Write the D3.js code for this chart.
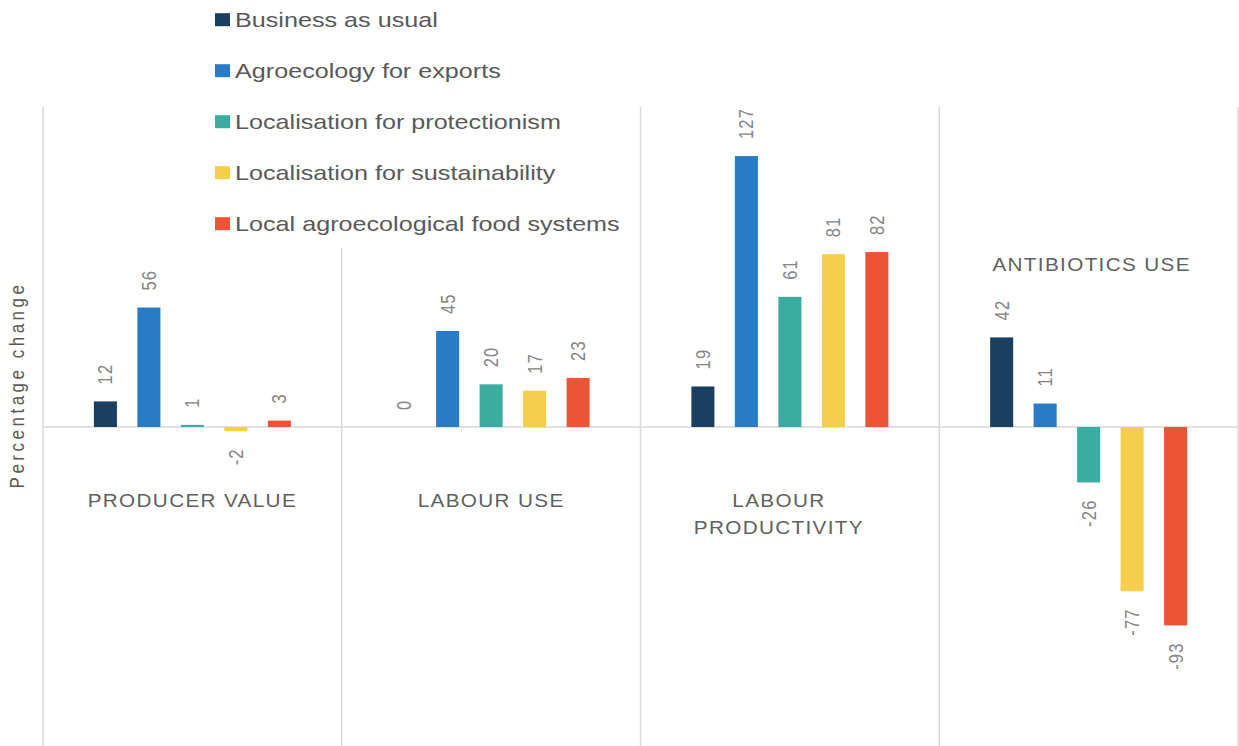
<!DOCTYPE html>
<html>
<head>
<meta charset="utf-8">
<script src="https://cdn.jsdelivr.net/npm/d3@7"></script>
<style>
  html, body { margin: 0; padding: 0; background: #ffffff; }
  svg { display: block; font-family: "Liberation Sans", Arial, sans-serif; }
</style>
</head>
<body>
<svg id="chart" width="1239" height="746"></svg>
<script>
// Indicators (groups along the x axis)
const categories = ["PRODUCER VALUE", "LABOUR USE", "LABOUR PRODUCTIVITY", "ANTIBIOTICS USE"];
const categoryLines = [["PRODUCER VALUE"], ["LABOUR USE"], ["LABOUR", "PRODUCTIVITY"], ["ANTIBIOTICS USE"]];

// Scenarios (one bar per scenario in every group)
const series = [
  "Business as usual",
  "Agroecology for exports",
  "Localisation for protectionism",
  "Localisation for sustainability",
  "Local agroecological food systems"
];

// Percentage change per scenario, in category order
const businessAsUsual     = [12, 0, 19, 42];
const agroecologyExports  = [56, 45, 127, 11];
const localProtectionism  = [1, 20, 61, -26];
const localSustainability = [-2, 17, 81, -77];
const localAgroFood       = [3, 23, 82, -93];

const seriesValues = [businessAsUsual, agroecologyExports, localProtectionism, localSustainability, localAgroFood];
const seriesColors = ["#1b3f60", "#2a7bc5", "#3aada1", "#f5cf4b", "#eb5536"];

const yDomain = [-150, 150];
const axisTitle = "Percentage change";

// ---- layout ----
const svg = d3.select("#chart");
const plotLeft = 43, plotRight = 1238, plotTop = 107, plotBottom = 747;
const SX = 1.2;              // horizontal stretch of the typeface
const gridColor = "#d9d9d9";

const x0 = d3.scaleBand().domain(categories).range([plotLeft, plotRight]).padding(0);
const x1 = d3.scaleBand().domain(series).range([0, x0.bandwidth()])
  .paddingInner(0.47).paddingOuter(1.17);
const y = d3.scaleLinear().domain(yDomain).range([plotBottom, plotTop]);
const color = d3.scaleOrdinal().domain(series).range(seriesColors);

const rows = [];
categories.forEach((c, ci) => {
  series.forEach((s, si) => rows.push({ category: c, series: s, value: seriesValues[si][ci] }));
});

// group separators
const bounds = categories.map(c => x0(c)).concat([plotRight]);
svg.append("g").selectAll("line").data(bounds).join("line")
  .attr("x1", d => d).attr("x2", d => d)
  .attr("y1", y(yDomain[1])).attr("y2", plotBottom)
  .attr("stroke", gridColor).attr("stroke-width", 1.5);

// zero line
svg.append("line")
  .attr("x1", plotLeft).attr("x2", plotRight)
  .attr("y1", y(0)).attr("y2", y(0))
  .attr("stroke", gridColor).attr("stroke-width", 1.5);

// bars
svg.append("g").selectAll("rect").data(rows).join("rect")
  .attr("x", d => x0(d.category) + x1(d.series))
  .attr("width", x1.bandwidth())
  .attr("y", d => y(Math.max(0, d.value)))
  .attr("height", d => Math.abs(y(d.value) - y(0)))
  .attr("fill", d => color(d.series));

// value labels, rotated
const labelGap = 17;
const valueLabels = svg.append("g").selectAll("g").data(rows).join("g")
  .attr("transform", d => {
    const cx = x0(d.category) + x1(d.series) + x1.bandwidth() / 2;
    const yy = d.value >= 0 ? y(d.value) - labelGap : y(d.value) + labelGap;
    return `translate(${cx},${yy}) scale(${SX},1) rotate(-90)`;
  });
valueLabels.append("text")
  .attr("dy", "0.35em")
  .attr("text-anchor", d => d.value >= 0 ? "start" : "end")
  .attr("font-size", 16.5)
  .attr("letter-spacing", 1.2)
  .attr("fill", "#868686")
  .text(d => String(d.value));

// category labels
const labelBaseline = c => (c === "ANTIBIOTICS USE" ? y(0) - 156 : y(0) + 80);
const labelShift = c => (c === "LABOUR PRODUCTIVITY" ? -11 : (c === "ANTIBIOTICS USE" ? 3 : 0));
const catGroups = svg.append("g").selectAll("g").data(categories).join("g")
  .attr("transform", c => `translate(${x0(c) + x0.bandwidth() / 2 + labelShift(c)},${labelBaseline(c)}) scale(1.12,1)`);
catGroups.each(function(c, i) {
  d3.select(this).selectAll("text").data(categoryLines[i]).join("text")
    .attr("y", (d, j) => j * 27)
    .attr("text-anchor", "middle")
    .attr("font-size", 18.5)
    .attr("letter-spacing", 1.2)
    .attr("fill", "#5f5f5f")
    .text(d => d);
});

// y axis title
svg.append("g")
  .attr("transform", `translate(24,${385}) scale(${SX},1) rotate(-90)`)
  .append("text")
  .attr("text-anchor", "middle")
  .attr("font-size", 17)
  .attr("letter-spacing", 3.5)
  .attr("fill", "#595959")
  .text(axisTitle);

// legend
const legend = svg.append("g");
legend.append("rect")
  .attr("x", 205).attr("y", 0).attr("width", 428).attr("height", 248)
  .attr("fill", "#ffffff");
const legendItems = legend.selectAll("g.item").data(series).join("g")
  .attr("class", "item")
  .attr("transform", (d, i) => `translate(215,${26.7 + i * 51})`);
legendItems.append("rect")
  .attr("x", 0).attr("y", -13.5).attr("width", 15).attr("height", 13)
  .attr("fill", d => color(d));
legendItems.append("g")
  .attr("transform", `translate(20,0) scale(1.24,1)`)
  .append("text")
  .attr("font-size", 20.3)
  .attr("fill", "#595959")
  .text(d => d);
</script>
</body>
</html>
